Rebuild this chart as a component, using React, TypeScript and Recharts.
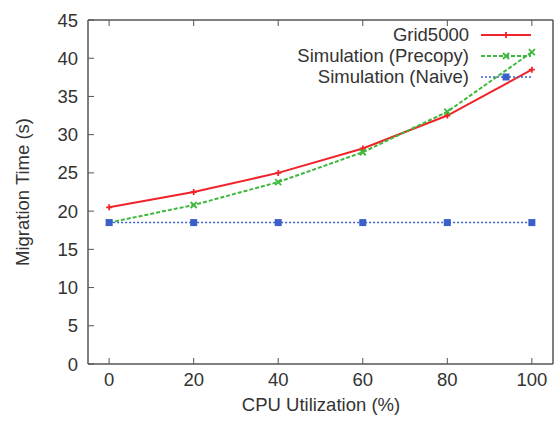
import { LineChart, Line, XAxis, YAxis } from "recharts";

document.body.style.margin = "0";

const cpu = [0, 20, 40, 60, 80, 100];
const grid5000 = [20.5, 22.5, 25.0, 28.2, 32.5, 38.5];
const precopy = [18.5, 20.8, 23.8, 27.7, 33.0, 40.8];
const naive = [18.5, 18.5, 18.5, 18.5, 18.5, 18.5];
const xTicks = [0, 20, 40, 60, 80, 100];
const yTicks = [0, 5, 10, 15, 20, 25, 30, 35, 40, 45];

const data = cpu.map((c, i) => ({ cpu: c, grid: grid5000[i], precopy: precopy[i], naive: naive[i] }));

const FONT = "'Liberation Sans', Arial, sans-serif";
const AXIS = "#555";
const RED = "#f0232a";
const GREEN = "#3cb83c";
const BLUE = "#3b5fc8";

const Plus = ({ cx, cy, color }: any) => (
  <path d={`M${cx - 3},${cy}H${cx + 3}M${cx},${cy - 3}V${cy + 3}`} stroke={color} strokeWidth={1.8} />
);
const Cross = ({ cx, cy, color }: any) => (
  <path d={`M${cx - 3},${cy - 3}L${cx + 3},${cy + 3}M${cx - 3},${cy + 3}L${cx + 3},${cy - 3}`} stroke={color} strokeWidth={1.8} />
);
const Square = ({ cx, cy, color }: any) => <rect x={cx - 3.5} y={cy - 3.5} width={7} height={7} fill={color} />;

const series = [
  { key: "grid", name: "Grid5000", color: RED, dash: undefined, width: 2, Mark: Plus },
  { key: "precopy", name: "Simulation (Precopy)", color: GREEN, dash: "4 2", width: 2, Mark: Cross },
  { key: "naive", name: "Simulation (Naive)", color: BLUE, dash: "2 2", width: 1.5, Mark: Square },
];

const BottomTick = ({ x, y, payload }: any) => (
  <g>
    <line x1={x} y1={y} x2={x} y2={y - 6} stroke={AXIS} />
    <text x={x} y={y + 22} textAnchor="middle" fontSize={18.5} fontFamily={FONT} fill="#333">
      {payload.value}
    </text>
  </g>
);
const TopTick = ({ x, y }: any) => <line x1={x} y1={y} x2={x} y2={y + 6} stroke={AXIS} />;
const LeftTick = ({ x, y, payload }: any) => (
  <g>
    <line x1={x} y1={y} x2={x + 6} y2={y} stroke={AXIS} />
    <text x={x - 10} y={y + 6.5} textAnchor="end" fontSize={18.5} fontFamily={FONT} fill="#333">
      {payload.value}
    </text>
  </g>
);
const RightTick = ({ x, y }: any) => <line x1={x} y1={y} x2={x - 6} y2={y} stroke={AXIS} />;

const LegendBox = () => (
  <div style={{ position: "absolute", right: 19, top: 24, fontFamily: FONT, fontSize: 18.5, color: "#333" }}>
    {series.map((s) => (
      <div key={s.key} style={{ display: "flex", alignItems: "center", justifyContent: "flex-end", height: 21 }}>
        <span>{s.name}</span>
        <svg width={62} height={14} style={{ marginLeft: 10 }}>
          <line x1={2} y1={7} x2={52} y2={7} stroke={s.color} strokeWidth={s.width} strokeDasharray={s.dash} />
          <s.Mark cx={27} cy={7} color={s.color} />
        </svg>
      </div>
    ))}
  </div>
);

export default function App() {
  return (
    <div style={{ position: "relative", width: 560, height: 430 }}>
      <LineChart width={560} height={430} data={data} margin={{ top: 19, right: 6, bottom: 0, left: 0 }}>
        <XAxis
          xAxisId="b"
          dataKey="cpu"
          type="number"
          domain={[-5, 105]}
          ticks={xTicks}
          height={66}
          tickSize={0}
          tickMargin={0}
          tickLine={false}
          tick={<BottomTick />}
          axisLine={{ stroke: AXIS, strokeWidth: 1.5 }}
          interval={0}
        />
        <XAxis
          xAxisId="t"
          orientation="top"
          dataKey="cpu"
          type="number"
          domain={[-5, 105]}
          ticks={xTicks}
          height={1}
          tickSize={0}
          tickMargin={0}
          tickLine={false}
          tick={<TopTick />}
          axisLine={{ stroke: AXIS, strokeWidth: 1.5 }}
          interval={0}
        />
        <YAxis
          yAxisId="l"
          type="number"
          domain={[0, 45]}
          ticks={yTicks}
          width={88}
          tickSize={0}
          tickMargin={0}
          tickLine={false}
          tick={<LeftTick />}
          axisLine={{ stroke: AXIS, strokeWidth: 1.5 }}
          interval={0}
          label={{ value: "Migration Time (s)", angle: -90, position: "insideLeft", dx: 17, style: { fontFamily: FONT, fontSize: 18.5, fill: "#333", textAnchor: "middle" } }}
        />
        <YAxis
          yAxisId="r"
          orientation="right"
          type="number"
          domain={[0, 45]}
          ticks={yTicks}
          width={1}
          tickSize={0}
          tickMargin={0}
          tickLine={false}
          tick={<RightTick />}
          axisLine={{ stroke: AXIS, strokeWidth: 1.5 }}
          interval={0}
        />
        {series.map((s) => (
          <Line
            key={s.key}
            xAxisId="b"
            yAxisId="l"
            dataKey={s.key}
            name={s.name}
            type="linear"
            stroke={s.color}
            strokeWidth={s.width}
            strokeDasharray={s.dash}
            dot={(p: any) => <s.Mark key={p.index} cx={p.cx} cy={p.cy} color={s.color} />}
            isAnimationActive={false}
          />
        ))}
      </LineChart>
      <LegendBox />
      <div style={{ position: "absolute", left: 88, width: 466, top: 394, textAlign: "center", fontFamily: FONT, fontSize: 18.5, color: "#333" }}>
        CPU Utilization (%)
      </div>
    </div>
  );
}
